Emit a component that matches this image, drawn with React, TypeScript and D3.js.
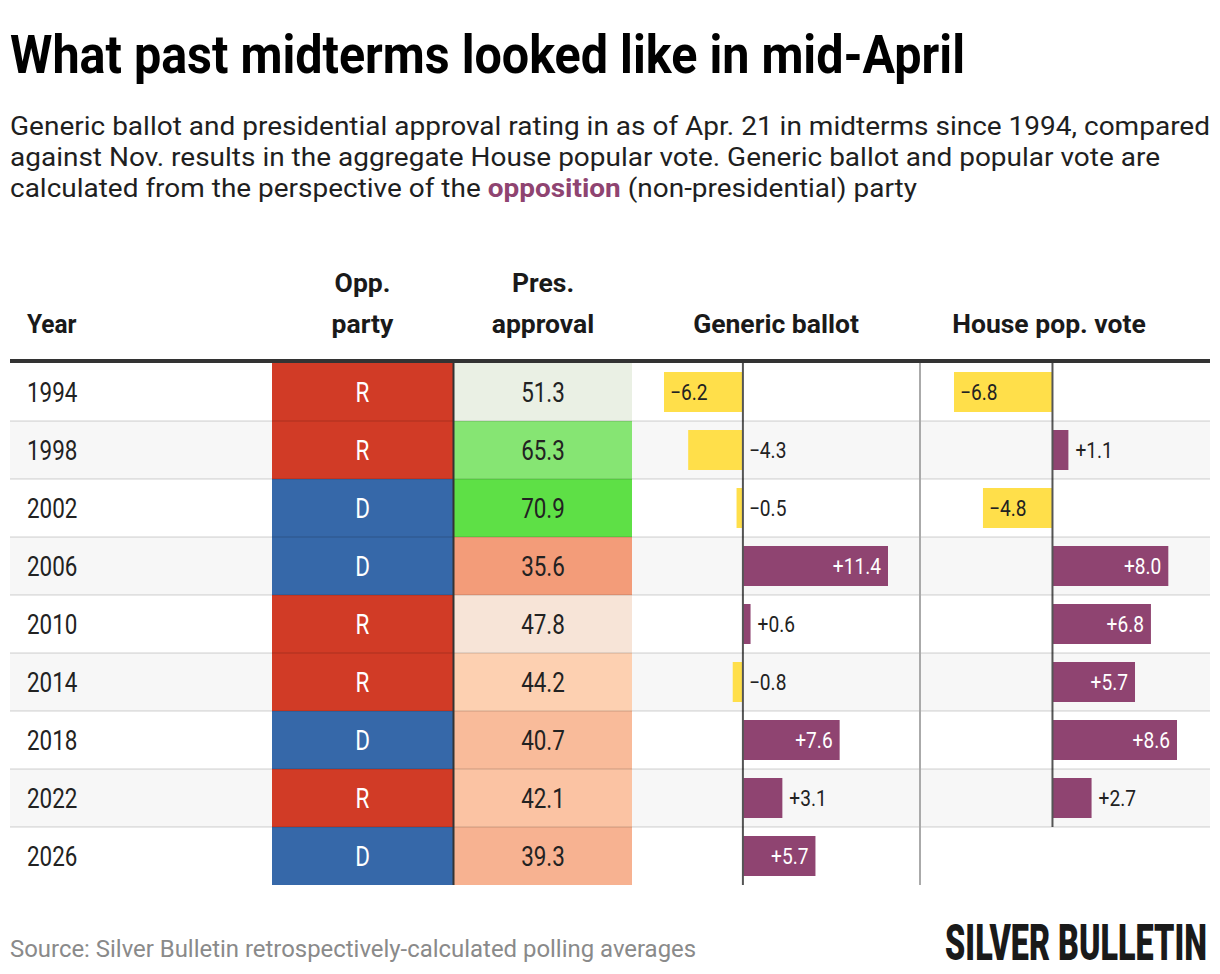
import { useEffect, useRef } from 'react';
import * as d3 from 'd3';

// Table data
const years = ['1994', '1998', '2002', '2006', '2010', '2014', '2018', '2022', '2026'];
const oppParty = ['R', 'R', 'D', 'D', 'R', 'R', 'D', 'R', 'D'];
const presApproval = [51.3, 65.3, 70.9, 35.6, 47.8, 44.2, 40.7, 42.1, 39.3];
const genericBallot = [-6.2, -4.3, -0.5, 11.4, 0.6, -0.8, 7.6, 3.1, 5.7];
const housePopVote: (number | null)[] = [-6.8, 1.1, -4.8, 8.0, 6.8, 5.7, 8.6, 2.7, null];

const subtitleLines = [
  'Generic ballot and presidential approval rating in as of Apr. 21 in midterms since 1994, compared',
  'against Nov. results in the aggregate House popular vote. Generic ballot and popular vote are',
];

const WIDTH = 1220;
const HEIGHT = 974;
const FONT = 'Roboto, "Noto Sans", sans-serif';
const PURPLE = '#8f4471';
const YELLOW = '#ffdf4a';
const PARTY_COLORS: Record<string, string> = { R: '#d13b26', D: '#3668a9' };

type G = d3.Selection<SVGGElement, unknown, null, undefined>;

// text with a horizontal squeeze, to mimic the condensed face of the original
function label(
  g: G,
  x: number,
  y: number,
  txt: string,
  o: { size: number; weight?: number; fill?: string; anchor?: string; sx?: number }
) {
  return g
    .append('text')
    .attr('transform', `translate(${x},${y}) scale(${o.sx ?? 1},1)`)
    .attr('font-family', FONT)
    .attr('font-size', o.size)
    .attr('font-weight', o.weight ?? 400)
    .attr('fill', o.fill ?? '#222')
    .attr('text-anchor', o.anchor ?? 'start')
    .text(txt);
}

export default function App() {
  const svgRef = useRef<SVGSVGElement>(null);

  useEffect(() => {
    if (!svgRef.current) return;
    const svg = d3.select(svgRef.current);
    svg.selectAll('*').remove();
    const g = svg.append('g') as G;

    // Title
    g.append('text')
      .attr('x', 10)
      .attr('y', 73)
      .attr('font-family', FONT)
      .attr('font-size', 54)
      .attr('font-weight', 700)
      .attr('fill', '#000')
      .attr('textLength', 955)
      .attr('lengthAdjust', 'spacingAndGlyphs')
      .text('What past midterms looked like in mid-April');

    // Subtitle
    subtitleLines.forEach((line, i) => {
      g.append('text')
        .attr('x', 10)
        .attr('y', 135 + i * 31)
        .attr('font-family', FONT)
        .attr('font-size', 25)
        .attr('fill', '#1f1f1f')
        .attr('textLength', i === 0 ? 1200 : 1150)
        .attr('lengthAdjust', 'spacingAndGlyphs')
        .text(line);
    });
    const last = g
      .append('text')
      .attr('x', 10)
      .attr('y', 197)
      .attr('font-family', FONT)
      .attr('font-size', 25)
      .attr('fill', '#1f1f1f')
      .attr('textLength', 907)
      .attr('lengthAdjust', 'spacingAndGlyphs');
    last.append('tspan').text('calculated from the perspective of the ');
    last.append('tspan').attr('font-weight', 700).attr('fill', PURPLE).text('opposition');
    last.append('tspan').text(' (non-presidential) party');

    // Layout
    const tableLeft = 10;
    const tableRight = 1210;
    const y = d3.scaleBand<string>().domain(years).range([363, 885]).padding(0);
    const bw = y.bandwidth();
    const partyX0 = 272;
    const partyX1 = 453;
    const apprX0 = 454;
    const apprX1 = 632;
    const sepX = 920;

    const approvalColor = d3
      .scaleLinear<string>()
      .domain([35.6, 44.2, 50, 70.9])
      .range(['#f39c79', '#fdd0b1', '#f3f1ef', '#5ee046'])
      .interpolate(d3.interpolateRgb);

    const genExt = d3.extent(genericBallot) as [number, number];
    const genX = d3.scaleLinear().domain(genExt).range([664, 888]);
    const houseVals = housePopVote.filter((d): d is number => d !== null);
    const houseExt = d3.extent(houseVals) as [number, number];
    const houseX = d3.scaleLinear().domain(houseExt).range([954, 1177]);

    // Header
    const hdr = { size: 26, weight: 700, fill: '#1a1a1a', sx: 1.02 };
    label(g, 27, 333, 'Year', { ...hdr, sx: 0.94 });
    label(g, (partyX0 + partyX1) / 2, 292, 'Opp.', { ...hdr, anchor: 'middle' });
    label(g, (partyX0 + partyX1) / 2, 333, 'party', { ...hdr, anchor: 'middle' });
    label(g, (apprX0 + apprX1) / 2, 292, 'Pres.', { ...hdr, anchor: 'middle' });
    label(g, (apprX0 + apprX1) / 2, 333, 'approval', { ...hdr, anchor: 'middle' });
    label(g, (apprX1 + sepX) / 2, 333, 'Generic ballot', { ...hdr, anchor: 'middle' });
    label(g, 1049, 333, 'House pop. vote', { ...hdr, anchor: 'middle' });

    // Row backgrounds
    g.append('g')
      .selectAll('rect')
      .data(years)
      .join('rect')
      .attr('x', tableLeft)
      .attr('width', tableRight - tableLeft)
      .attr('y', (d) => y(d)!)
      .attr('height', bw)
      .attr('fill', (_, i) => (i % 2 === 1 ? '#f7f7f7' : '#ffffff'));

    // Party + approval cells
    g.append('g')
      .selectAll('rect')
      .data(years)
      .join('rect')
      .attr('x', partyX0)
      .attr('width', partyX1 - partyX0)
      .attr('y', (d) => y(d)!)
      .attr('height', bw)
      .attr('fill', (_, i) => PARTY_COLORS[oppParty[i]]);

    g.append('g')
      .selectAll('rect')
      .data(years)
      .join('rect')
      .attr('x', apprX0)
      .attr('width', apprX1 - apprX0)
      .attr('y', (d) => y(d)!)
      .attr('height', bw)
      .attr('fill', (_, i) => approvalColor(presApproval[i]));

    // Bars
    const barPad = 9;
    const fmt = d3.format('+.1f');
    const drawBars = (vals: (number | null)[], x: d3.ScaleLinear<number, number>) => {
      const bars = g.append('g');
      vals.forEach((v, i) => {
        if (v === null) return;
        const yr = years[i];
        const x0 = x(0);
        const xv = x(v);
        bars
          .append('rect')
          .attr('x', Math.min(x0, xv))
          .attr('width', Math.abs(xv - x0))
          .attr('y', y(yr)! + barPad)
          .attr('height', bw - barPad * 2)
          .attr('fill', v >= 0 ? PURPLE : YELLOW);
      });
      // zero line on rows that have a value
      vals.forEach((v, i) => {
        if (v === null) return;
        bars
          .append('line')
          .attr('x1', x(0))
          .attr('x2', x(0))
          .attr('y1', y(years[i])!)
          .attr('y2', y(years[i])! + bw)
          .attr('stroke', '#555')
          .attr('stroke-width', 2);
      });
      vals.forEach((v, i) => {
        if (v === null) return;
        const x0 = x(0);
        const xv = x(v);
        const w = Math.abs(xv - x0);
        const ty = y(years[i])! + bw / 2 + 8;
        const txt = { size: 22, sx: 0.87, fill: '#222' };
        if (v >= 0) {
          if (w > 60) label(g, xv - 7, ty, fmt(v), { ...txt, anchor: 'end', fill: '#fff' });
          else label(g, xv + 7, ty, fmt(v), txt);
        } else {
          if (w > 60) label(g, xv + 6, ty, fmt(v), txt);
          else label(g, x0 + 6, ty, fmt(v), txt);
        }
      });
    };
    drawBars(genericBallot, genX);
    drawBars(housePopVote, houseX);

    // Row separators
    g.append('g')
      .selectAll('line')
      .data(years.slice(1))
      .join('line')
      .attr('x1', tableLeft)
      .attr('x2', tableRight)
      .attr('y1', (d) => y(d)!)
      .attr('y2', (d) => y(d)!)
      .attr('stroke', 'rgba(0,0,0,0.09)')
      .attr('stroke-width', 2);

    // Vertical rules
    g.append('line')
      .attr('x1', partyX1 + 0.5)
      .attr('x2', partyX1 + 0.5)
      .attr('y1', 363)
      .attr('y2', 885)
      .attr('stroke', '#333')
      .attr('stroke-width', 2);
    g.append('line')
      .attr('x1', sepX)
      .attr('x2', sepX)
      .attr('y1', 363)
      .attr('y2', 885)
      .attr('stroke', '#aaa')
      .attr('stroke-width', 2);

    // Header rule
    g.append('line')
      .attr('x1', tableLeft)
      .attr('x2', tableRight)
      .attr('y1', 361)
      .attr('y2', 361)
      .attr('stroke', '#333')
      .attr('stroke-width', 4);

    // Cell text
    years.forEach((yr, i) => {
      const ty = y(yr)! + bw / 2 + 10;
      const cell = { size: 27, sx: 0.83, fill: '#222' };
      label(g, 27, ty, yr, cell);
      label(g, (partyX0 + partyX1) / 2, ty, oppParty[i], { ...cell, anchor: 'middle', fill: '#fff' });
      label(g, (apprX0 + apprX1) / 2, ty, presApproval[i].toFixed(1), { ...cell, anchor: 'middle' });
    });

    // Footer
    label(g, 10, 957, 'Source: Silver Bulletin retrospectively-calculated polling averages', {
      size: 23,
      fill: '#8a8a8a',
      sx: 1.04,
    });
    // logo: squeeze the heavy face to the wordmark's width
    const logo = label(g, 1207, 960, 'SILVER BULLETIN', {
      size: 50,
      weight: 900,
      fill: '#1a1a1a',
      anchor: 'end',
    });
    const natural = (logo.node() as SVGTextElement).getComputedTextLength() || 262;
    logo.attr('transform', `translate(1207,960) scale(${262 / natural},1)`);
  }, []);

  return (
    <div style={{ position: 'absolute', left: 0, top: 0 }}>
      <svg ref={svgRef} width={WIDTH} height={HEIGHT} style={{ display: 'block', background: '#fff' }} />
    </div>
  );
}
